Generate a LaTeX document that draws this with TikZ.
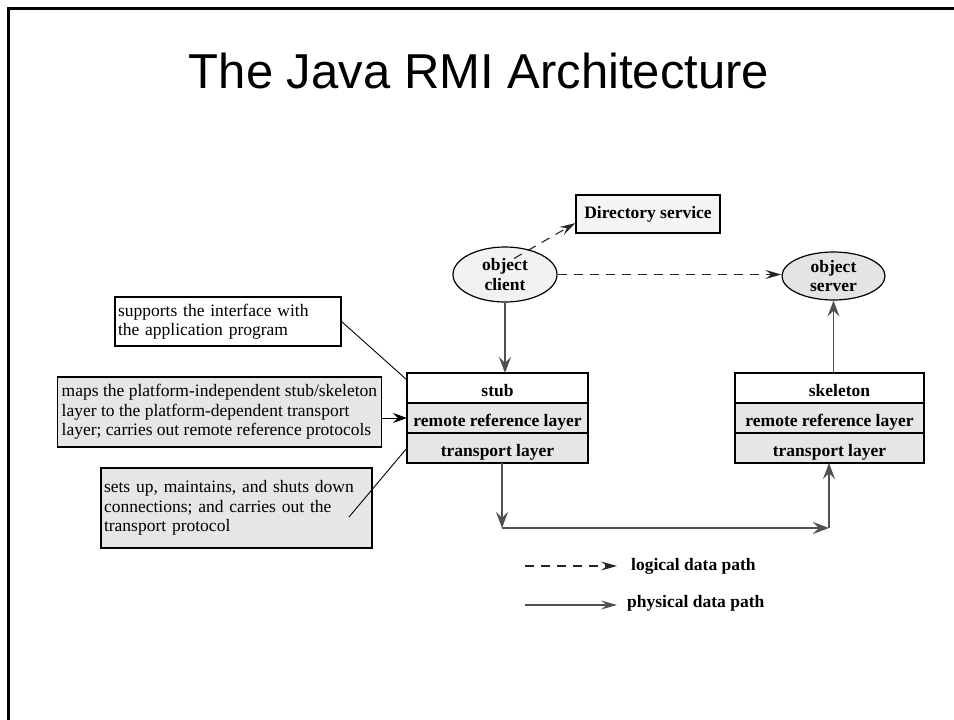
\documentclass[tikz,border=0pt]{standalone}
\usepackage{fontspec}
\setmainfont{Liberation Serif}
\newfontfamily\titlefont{Liberation Sans}
\usetikzlibrary{positioning,arrows.meta,shapes.geometric}
\definecolor{boxgray}{RGB}{230,230,230}
\definecolor{dirgray}{RGB}{245,245,245}
\definecolor{clientgray}{RGB}{242,242,242}
\definecolor{servergray}{RGB}{228,228,228}
\definecolor{pathgray}{RGB}{80,80,80}
\tikzset{
  note/.style={draw,line width=1.1pt,inner xsep=3pt,inner ysep=2pt,align=left,
    font=\fontsize{17.5}{19.5}\selectfont},
  tag/.style={inner sep=0pt,font=\fontsize{17.5}{19.5}\bfseries\selectfont},
  rmilayer/.style={draw,line width=1.2pt,fill=boxgray,outer sep=0pt,inner sep=0pt,
    minimum height=30pt,text height=17pt,text depth=1pt,
    font=\fontsize{17.5}{19.5}\bfseries\selectfont},
  endpoint/.style={ellipse,draw,line width=1.2pt,inner sep=-10pt,align=center,
    font=\fontsize{17.5}{19.5}\bfseries\selectfont},
  logical/.style={black!85,dash pattern=on 9pt off 7pt,line width=1.1pt,
    -{Stealth[length=16pt,width=9pt,inset=6pt]}},
  physical/.style={pathgray,line width=1.3pt,-{Stealth[length=16pt,width=#1,inset=6pt]}},
  physical/.default=12pt,
  pointer/.style={black,line width=0.9pt},
}
\begin{document}
\begin{tikzpicture}[x=1pt,y=-1pt]
\useasboundingbox (0,0) rectangle (954,720);
% slide frame and title
\draw[line width=2.5pt] (8.3,720) -- (8.3,8.3) -- (954,8.3);
\node[font=\titlefont\fontsize{49}{49}\selectfont,anchor=base] (title) at (479,88) {The Java RMI Architecture};

% objects and directory
\node[tag,draw,line width=1.1pt,fill=dirgray,minimum width=144pt,minimum height=38pt] (dir) at (648,214) {Directory service};
\node[endpoint,fill=clientgray,minimum width=104pt,minimum height=55pt] (client) at (505,274.5) {object\\client};
\node[endpoint,fill=servergray,minimum width=103pt,minimum height=48pt] (server) at (833.5,276) {object\\server};

% client side stack
\node[rmilayer,fill=white,minimum width=181pt] (stub) at (497.5,388) {stub};
\node[rmilayer,minimum width=181pt,below=0pt of stub] (stubref) {remote reference layer};
\node[rmilayer,minimum width=181pt,below=0pt of stubref] (stubtrans) {transport layer};

% server side stack
\node[rmilayer,fill=white,minimum width=189pt] (skel) at (829.5,388) {\hspace*{20pt}skeleton};
\node[rmilayer,minimum width=189pt,below=0pt of skel] (skelref) {remote reference layer};
\node[rmilayer,minimum width=189pt,below=0pt of skelref] (skeltrans) {transport layer};

% notes on the left
\node[note,fill=white,text width=220pt,minimum height=49pt] (supnote) at (228,321.5)
  {supports the interface with\\the application program};
\node[note,fill=boxgray,anchor=east,minimum width=324pt,minimum height=70pt] (mapnote) at (382,412)
  {maps the platform-independent stub/skeleton\\layer to the platform-dependent transport\\layer; carries out remote reference protocols};
\node[note,fill=boxgray,text width=265pt,minimum height=80pt] (setnote) at (236.5,508)
  {sets up, maintains, and shuts down\\connections; and carries out the\\transport protocol};
\coordinate (setend) at (349,517);
\draw[pointer] (supnote.east) -- ([shift={(0,-8)}]stub.west);
\draw[pointer,-{Stealth[length=14pt,width=10pt,inset=5pt]}] (mapnote.east |- stubref.west) -- (stubref.west);
\draw[pointer] (setend) -- (stubtrans.west);

% logical paths
\draw[logical] ([shift={(9,-16)}]client.center) -- ([shift={(0,9)}]dir.west);
\draw[logical] (client.east) -- (client.east -| server.west);

% physical paths
\coordinate (pbl) at (502,528);
\coordinate (pbr) at (829,528);
\draw[physical] (client.south) -- (client.south |- stub.north);
\draw[physical] (server.south |- skel.north) -- (server.south);
\draw[physical] (stubtrans.south -| pbl) -- (pbl);
\draw[physical] (pbl) -- (pbr);
\draw[physical] (pbr) -- (pbr |- skeltrans.south);

% legend
\coordinate (lga) at (525,566);
\coordinate (lgb) at (617,566);
\coordinate (lgc) at (525,605);
\coordinate (lgd) at (617,605);
\draw[logical] (lga) -- (lgb);
\node[tag,right=14pt of lgb] (loglabel) {logical data path};
\draw[physical=9pt] (lgc) -- (lgd);
\node[tag,right=10pt of lgd,yshift=2pt] (phylabel) {physical data path};
\end{tikzpicture}
\end{document}
